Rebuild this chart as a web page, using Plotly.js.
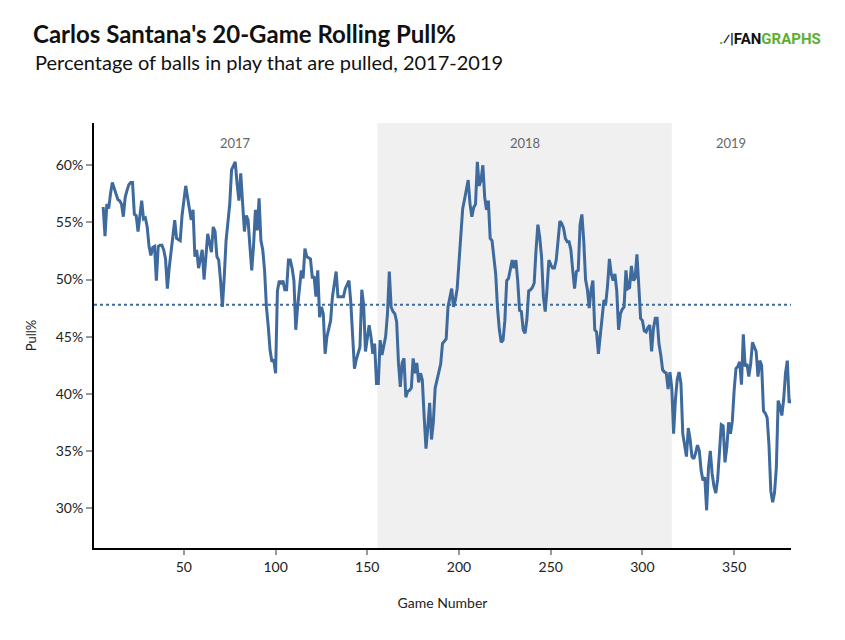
<!DOCTYPE html>
<html>
<head>
<meta charset="utf-8">
<script src="https://cdn.plot.ly/plotly-3.0.1.min.js"></script>
<style>html,body{margin:0;padding:0;background:#fff;}#chart{width:845px;height:640px;}</style>
</head>
<body>
<div id="chart"></div>
<script>
// First game plotted
const firstGame = 6;
// 20-game rolling Pull% values, game 6 .. 381
const pullPct = [
56.35,53.8,56.6,56.2,57.5,58.5,58.0,57.4,57.0,56.9,
56.6,55.5,57.2,57.8,58.3,58.5,58.5,55.7,55.6,54.2,
55.5,56.9,55.3,55.4,54.6,52.9,52.1,52.8,52.9,49.9,
52.9,53.0,53.0,52.6,51.8,49.2,51.0,52.6,54.0,55.2,
53.6,53.5,53.4,55.6,57.0,58.2,57.2,56.0,55.2,56.1,
52.0,52.6,51.0,51.8,52.6,50.0,52.0,54.0,53.2,52.4,
54.6,54.2,52.0,51.7,49.9,47.6,50.2,53.4,55.0,56.6,
59.6,59.9,60.3,58.4,56.9,59.3,56.4,54.2,55.6,55.2,
52.9,50.8,53.0,56.1,54.3,57.1,53.4,52.6,50.8,47.6,
45.9,43.8,42.8,43.0,41.8,49.0,49.9,49.6,49.9,49.1,
49.1,51.7,51.7,51.0,49.9,45.6,47.6,49.5,50.8,50.1,
52.7,52.0,51.9,51.8,50.2,50.2,48.5,50.8,46.7,47.6,
47.0,43.5,45.0,45.7,46.4,48.5,49.8,50.7,48.5,48.5,
48.5,48.5,49.2,49.6,49.9,48.0,45.0,42.2,43.0,43.5,
44.1,49.1,47.8,43.7,44.8,46.0,45.0,43.5,44.4,40.9,
40.9,44.7,43.4,44.2,45.0,47.0,50.7,47.6,47.2,47.0,
46.3,42.7,40.6,42.7,43.1,39.7,40.2,40.3,40.5,43.1,
41.8,42.7,41.0,41.8,41.2,38.0,35.2,37.1,39.2,36.0,
37.5,40.5,41.2,41.8,42.6,44.4,44.6,44.8,47.6,48.3,
49.2,47.6,48.2,49.2,51.5,54.0,56.2,57.0,57.9,58.7,
56.6,55.5,56.3,56.6,60.3,58.2,58.7,60.0,57.2,56.1,
56.9,53.6,53.4,52.0,50.5,47.5,45.6,44.5,44.7,46.4,
49.9,50.1,50.8,51.7,51.0,51.7,49.9,47.3,47.2,45.6,
45.3,46.5,49.0,49.1,49.3,49.7,52.6,54.8,53.7,52.0,
48.5,47.2,49.2,51.7,51.3,51.0,51.0,51.7,53.4,55.1,
54.9,54.5,53.6,53.3,53.3,52.6,50.8,49.2,50.7,50.8,
54.8,55.7,53.4,50.0,49.1,47.5,49.1,49.9,45.6,45.4,
43.5,45.3,47.0,48.2,47.9,49.5,51.8,50.5,49.9,50.5,
49.0,45.6,47.0,47.4,47.6,50.8,49.2,49.3,51.2,49.9,
50.1,52.2,49.5,46.6,46.4,45.5,45.4,45.8,46.0,43.7,
45.7,46.6,46.6,44.4,43.4,42.1,41.9,41.8,40.4,41.9,
40.5,36.5,39.5,41.3,41.9,40.9,36.5,35.5,34.5,37.0,
36.0,34.5,34.3,34.8,35.5,35.0,33.3,32.4,32.7,29.8,
33.5,35.0,33.0,31.9,31.3,32.5,35.0,37.3,37.2,34.0,
35.3,37.5,36.5,37.6,40.3,42.2,42.4,42.8,40.8,45.2,
42.4,42.6,41.5,42.6,44.5,44.1,43.7,41.5,42.9,42.5,
38.5,38.3,37.9,35.5,31.5,30.5,31.3,33.5,39.4,38.9,
38.1,39.5,41.8,42.9,39.2,39.5
];
const games = pullPct.map((_, i) => firstGame + i);

// Reference line
const avgPull = 47.8;
// Seasons: label, first game, last game
const seasonLabels = ["2017", "2018", "2019"];
const seasonStart = [1, 155.5, 316];
const seasonEnd = [155.5, 316, 381];
const shadedSeason = 1;

const xTicks = [50, 100, 150, 200, 250, 300, 350];
const yTicks = [30, 35, 40, 45, 50, 55, 60];
const yTickText = ["30%", "35%", "40%", "45%", "50%", "55%", "60%"];

const blue = "#3e6a9d";
const FONT = "Lato, 'Open Sans', sans-serif";

const trace = {
  x: games, y: pullPct, type: "scatter", mode: "lines",
  line: {color: blue, width: 3}, hoverinfo: "x+y", showlegend: false
};

const shapes = [
  {type: "rect", xref: "x", yref: "paper", x0: seasonStart[shadedSeason], x1: seasonEnd[shadedSeason],
   y0: 0, y1: 1, fillcolor: "#f0f0f0", line: {width: 0}, layer: "below"},
  {type: "line", xref: "paper", yref: "y", x0: 0, x1: 1, y0: avgPull, y1: avgPull,
   line: {color: blue, width: 2, dash: "dot"}, layer: "above"}
];

const annotations = seasonLabels.map((s, i) => ({
  text: s, xref: "x", yref: "paper", x: (seasonStart[i] + seasonEnd[i]) / 2, y: 0.953,
  showarrow: false, font: {family: FONT, size: 13, color: "#666"}, xanchor: "center", yanchor: "middle"
}));
annotations.push({
  text: "Percentage of balls in play that are pulled, 2017-2019",
  xref: "paper", yref: "paper", x: -0.0875, y: 1.144, xanchor: "left", yanchor: "middle",
  showarrow: false, font: {family: FONT, size: 20, color: "#111"}
});
annotations.push({
  text: "<b><span style='color:#5cb030'>.</span><span style='color:#111'>⁄|FAN</span><span style='color:#5cb030'>GRAPHS</span></b>",
  xref: "paper", yref: "paper", x: 0.97, y: 1.198, xanchor: "center", yanchor: "middle",
  showarrow: false, font: {family: "Roboto, 'Liberation Sans', sans-serif", size: 15, color: "#111"}
});

const layout = {
  width: 845, height: 640,
  margin: {l: 94, r: 54, t: 123, b: 92},
  paper_bgcolor: "#fff", plot_bgcolor: "#fff",
  font: {family: FONT, color: "#222"},
  title: {text: "<b>Carlos Santana's 20-Game Rolling Pull%</b>", x: 33/845, xanchor: "left",
          y: 1 - 35/640, yanchor: "middle", xref: "container", yref: "container",
          font: {family: FONT, size: 24, color: "#111"}},
  xaxis: {range: [1, 381], tickvals: xTicks, showline: true, linecolor: "#000", linewidth: 2,
          ticks: "outside", ticklen: 5, tickwidth: 2, tickcolor: "#999", showgrid: false, zeroline: false,
          tickfont: {family: FONT, size: 14, color: "#222"},
          title: {text: "Game Number", font: {family: FONT, size: 14, color: "#222"}, standoff: 24}},
  yaxis: {range: [26.5, 63.7], tickmode: "array", tickvals: yTicks, ticktext: yTickText,
          showline: true, linecolor: "#000", linewidth: 2,
          ticks: "outside", ticklen: 6, tickwidth: 2, tickcolor: "#999", showgrid: false, zeroline: false,
          tickfont: {family: FONT, size: 14, color: "#222"},
          title: {text: "Pull%", font: {family: FONT, size: 13, color: "#222"}, standoff: 16}},
  shapes: shapes,
  annotations: annotations
};

Plotly.newPlot("chart", [trace], layout, {displayModeBar: false, staticPlot: true});
</script>
</body>
</html>
